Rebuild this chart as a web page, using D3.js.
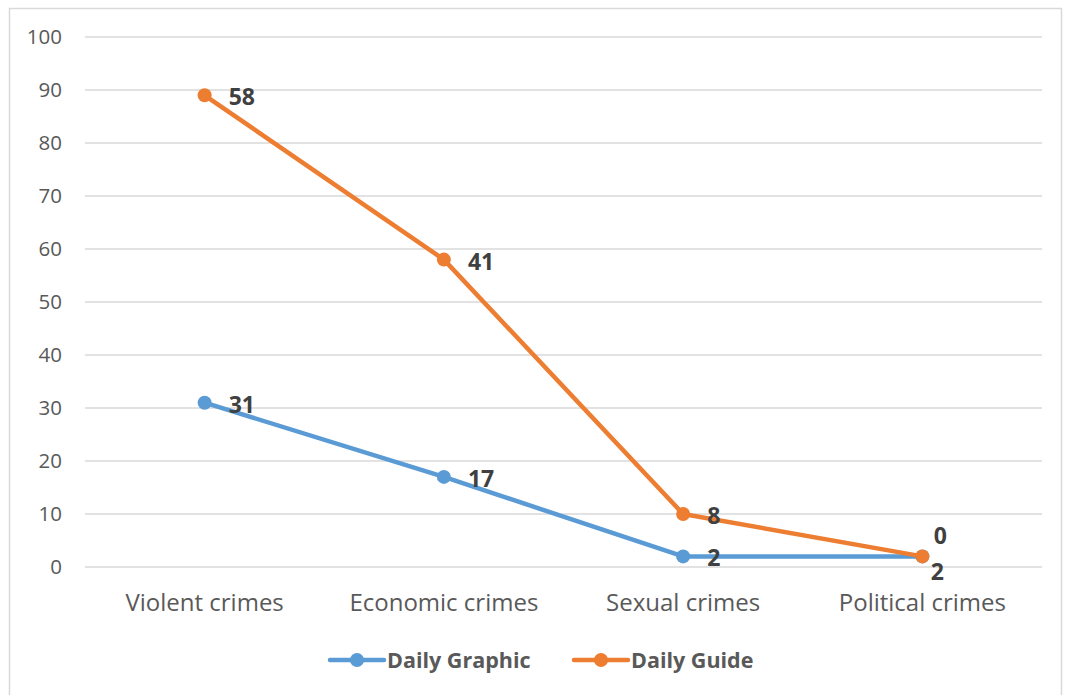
<!DOCTYPE html>
<html>
<head>
<meta charset="utf-8">
<script src="https://cdn.jsdelivr.net/npm/d3@7"></script>
<style>
  body { margin: 0; background: #fff; }
  svg { display: block; font-family: "Open Sans", "Noto Sans", sans-serif; }
</style>
</head>
<body>
<svg id="chart" width="1065" height="695"></svg>
<script>
// data (stacked line: Daily Guide sits on top of Daily Graphic)
const categories = ["Violent crimes", "Economic crimes", "Sexual crimes", "Political crimes"];
const dailyGraphic = [31, 17, 2, 2];
const dailyGuide = [58, 41, 8, 0];
const yTicks = [0, 10, 20, 30, 40, 50, 60, 70, 80, 90, 100];

const plot = { left: 85, right: 1042, top: 37, bottom: 567 };

const svg = d3.select("#chart");

// chart frame
svg.append("rect")
  .attr("x", 9.5).attr("y", 8.5)
  .attr("width", 1052).attr("height", 700)
  .attr("fill", "none")
  .attr("stroke", "#d9d9d9")
  .attr("stroke-width", 1.5);

const x = d3.scaleBand()
  .domain(categories)
  .range([plot.left, plot.right]);

const y = d3.scaleLinear()
  .domain([0, 100])
  .range([plot.bottom, plot.top]);

// gridlines
svg.append("g")
  .selectAll("line")
  .data(yTicks)
  .join("line")
  .attr("x1", plot.left).attr("x2", plot.right)
  .attr("y1", d => y(d)).attr("y2", d => y(d))
  .attr("stroke", "#d9d9d9")
  .attr("stroke-width", 1.5);

// y axis labels
svg.append("g")
  .selectAll("text")
  .data(yTicks)
  .join("text")
  .attr("x", 62)
  .attr("y", d => y(d))
  .attr("dy", "0.35em")
  .attr("text-anchor", "end")
  .attr("font-size", 20.5)
  .attr("fill", "#595959")
  .text(d => d);

// category labels
svg.append("g")
  .selectAll("text")
  .data(categories)
  .join("text")
  .attr("x", d => x(d) + x.bandwidth() / 2)
  .attr("y", 603)
  .attr("dy", "0.35em")
  .attr("text-anchor", "middle")
  .attr("font-size", 24)
  .attr("fill", "#595959")
  .text(d => d);

const cx = d => x(d) + x.bandwidth() / 2;
const stacked = dailyGuide.map((v, i) => v + dailyGraphic[i]);

const series = [
  { name: "Daily Graphic", color: "#5b9bd5", tops: dailyGraphic, labels: dailyGraphic },
  { name: "Daily Guide", color: "#ed7d31", tops: stacked, labels: dailyGuide }
];

const line = d3.line()
  .x(d => cx(d.cat))
  .y(d => y(d.v));

series.forEach(s => {
  const pts = categories.map((c, i) => ({ cat: c, v: s.tops[i] }));
  const g = svg.append("g");
  g.append("path")
    .datum(pts)
    .attr("d", line)
    .attr("fill", "none")
    .attr("stroke", s.color)
    .attr("stroke-width", 4.5)
    .attr("stroke-linejoin", "round")
    .attr("stroke-linecap", "round");
  g.selectAll("circle")
    .data(pts)
    .join("circle")
    .attr("cx", d => cx(d.cat))
    .attr("cy", d => y(d.v))
    .attr("r", 7)
    .attr("fill", s.color);
});

// data labels (right of point; last category split above/below)
series.forEach((s, si) => {
  const last = categories.length - 1;
  const pts = categories.map((c, i) => ({ cat: c, v: s.tops[i], lab: s.labels[i], i }));
  svg.append("g")
    .selectAll("text")
    .data(pts)
    .join("text")
    .attr("x", d => d.i === last ? cx(d.cat) + (si === 0 ? 15 : 18) : cx(d.cat) + 24)
    .attr("y", d => d.i === last ? y(d.v) + (si === 0 ? 16 : -20) : y(d.v) + 2)
    .attr("dy", "0.35em")
    .attr("text-anchor", d => d.i === last ? "middle" : "start")
    .attr("font-size", 23)
    .attr("font-weight", "bold")
    .attr("fill", "#404040")
    .text(d => d.lab);
});

// legend
const legendX = [330, 574];
const legend = svg.append("g");
series.forEach((s, i) => {
  const lg = legend.append("g").attr("transform", `translate(${legendX[i]},660)`);
  lg.append("line")
    .attr("x1", 0).attr("x2", 54)
    .attr("stroke", s.color)
    .attr("stroke-width", 4.5)
    .attr("stroke-linecap", "round");
  lg.append("circle").attr("cx", 27).attr("r", 7).attr("fill", s.color);
  lg.append("text")
    .attr("x", 57)
    .attr("dy", "0.35em")
    .attr("font-size", 21.5)
    .attr("font-weight", "bold")
    .attr("fill", "#595959")
    .text(s.name);
});
</script>
</body>
</html>
